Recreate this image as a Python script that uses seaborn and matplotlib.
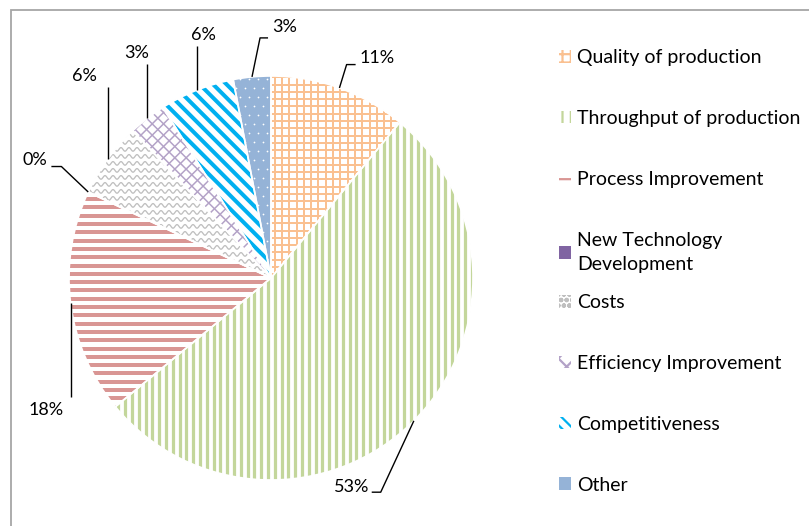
import numpy as np
import matplotlib
matplotlib.use("Agg")
import matplotlib.pyplot as plt
import seaborn as sns
from matplotlib.collections import LineCollection
from matplotlib.patches import Patch, Rectangle, Wedge

# ---------------- data ----------------
categories = ["Quality of production", "Throughput of production", "Process Improvement",
              "New Technology\nDevelopment", "Costs", "Efficiency Improvement",
              "Competitiveness", "Other"]
shares = [11, 53, 18, 0, 6, 3, 6, 3]
pct_labels = ["11%", "53%", "18%", "0%", "6%", "3%", "6%", "3%"]

# ---------------- style ----------------
sns.set_theme(style="white")
plt.rcParams["font.family"] = ["Lato", "DejaVu Sans"]
plt.rcParams["hatch.linewidth"] = 1.6

pattern_colors = ["#FAC090", "#C3D69B", "#D99694", "#8064A2",
                  "#BFBFBF", "#B3A2C7", "#00B0F0", "#95B3D7"]
face_colors = ["white", "white", "white", "#8064A2", "white", "white", "white", "#95B3D7"]
legend_hatches = ["++", "||", "--", None, "ooo", "xx", "\\\\\\", None]

# label placement (radius, angle clockwise from 12 o'clock), layout only
label_polar = [(1.21, 25.6), (1.11, 158.9), (1.29, 239.5), (1.31, 296.6),
               (1.36, 317.2), (1.30, 329.1), (1.25, 344.4), (1.245, 3.2)]
# leader attach point relative to label centre (px, y down) and horizontal elbow (px)
label_attach = [(-21, 7, -9), (20, 5, 9), (23, -13, 0), (17, 7, 10),
                (16, 11, 0), (11, 11, 0), (-6, 11, 0), (-17, 11, -8)]

W, H = 809, 526
fig = plt.figure(figsize=(W / 100, H / 100), dpi=100)
cx, cy, R = 271, 278, 202
ax = fig.add_axes([(cx - R) / W, (H - cy - R) / H, 2 * R / W, 2 * R / H])

wedges, _ = ax.pie(shares, startangle=90, counterclock=False, colors=face_colors,
                   wedgeprops=dict(edgecolor="none", linewidth=0))
ax.set_xlim(-1, 1)
ax.set_ylim(-1, 1)
ax.axis("off")

px = 1.0 / R  # data units per pixel


def stripes(wedge, angle_deg, spacing_px, width_px, color, phase=0.0):
    t = np.deg2rad(angle_deg)
    d = np.array([np.cos(t), np.sin(t)])
    n = np.array([-np.sin(t), np.cos(t)])
    offs = np.arange(-1.5, 1.5, spacing_px * px) + phase * px
    segs = [[o * n - 1.6 * d, o * n + 1.6 * d] for o in offs]
    lc = LineCollection(segs, colors=color, linewidths=width_px * 0.72,
                        zorder=2, capstyle="butt")
    ax.add_collection(lc)
    lc.set_clip_path(wedge)


def waves(wedge, spacing_px, wl_px, amp_px, width_px, color):
    xs = np.arange(-1.2, 1.2, 0.5 * px)
    segs = []
    for y0 in np.arange(-1.2, 1.2, spacing_px * px):
        ys = y0 + amp_px * px * np.sin(2 * np.pi * xs / (wl_px * px))
        segs.append(np.column_stack([xs, ys]))
    lc = LineCollection(segs, colors=color, linewidths=width_px * 0.72, zorder=2)
    ax.add_collection(lc)
    lc.set_clip_path(wedge)


def dots(wedge, spacing_px, color):
    pts = []
    sp = spacing_px * px
    for i, y in enumerate(np.arange(-1.2, 1.2, sp)):
        shift = (sp / 2) if i % 2 else 0
        for x in np.arange(-1.2, 1.2, sp):
            pts.append((x + shift, y))
    pts = np.array(pts)
    sc = ax.scatter(pts[:, 0], pts[:, 1], s=1.6, c=color, linewidths=0, zorder=2)
    sc.set_clip_path(wedge)


# Quality: orange grid
stripes(wedges[0], 0, 7.3, 2.0, pattern_colors[0])
stripes(wedges[0], 90, 7.3, 2.0, pattern_colors[0])
# Throughput: green vertical stripes
stripes(wedges[1], 90, 6.8, 3.2, pattern_colors[1])
# Process improvement: red horizontal stripes
stripes(wedges[2], 0, 8.3, 4.0, pattern_colors[2])
# Costs: grey waves
waves(wedges[4], 7.0, 8.0, 1.8, 1.3, pattern_colors[4])
# Efficiency: lavender diagonal grid
stripes(wedges[5], 45, 8.0, 1.5, pattern_colors[5])
stripes(wedges[5], -45, 8.0, 1.5, pattern_colors[5])
# Competitiveness: blue diagonal stripes
stripes(wedges[6], -45, 9.5, 4.0, pattern_colors[6])
# Other: white dots
dots(wedges[7], 9.0, "white")

# white separators on top
for w in wedges:
    ax.add_patch(Wedge(w.center, w.r, w.theta1, w.theta2, facecolor="none",
                       edgecolor="white", linewidth=1.2, zorder=3))

# percentage labels with leader lines
for w, lab, (r, a), (adx, ady, elb) in zip(wedges, pct_labels, label_polar, label_attach):
    mid = np.deg2rad((w.theta1 + w.theta2) / 2)
    edge = np.array([np.cos(mid), np.sin(mid)])
    ang = np.deg2rad(90 - a)
    pos = np.array([r * np.cos(ang), r * np.sin(ang)])
    ax.text(pos[0], pos[1], lab, ha="center", va="center", fontsize=13, color="#000000")
    attach = pos + np.array([adx * px, -ady * px])
    if elb == 0:
        attach = np.array([edge[0] if abs(adx) > 0 and abs(edge[0] - attach[0]) < 12 * px
                           else attach[0], attach[1]])
        xs, ys = [edge[0], attach[0]], [edge[1], attach[1]]
    else:
        elbow = attach + np.array([elb * px, 0])
        xs, ys = [edge[0], elbow[0], attach[0]], [edge[1], elbow[1], attach[1]]
    ax.plot(xs, ys, color="black", lw=1.0, clip_on=False, zorder=4,
            solid_capstyle="butt")

# legend (two blocks, evenly spaced like the original)
handles = []
for fc, pc, hatch in zip(face_colors, pattern_colors, legend_hatches):
    if hatch is None:
        handles.append(Patch(facecolor=fc, edgecolor=fc, linewidth=0))
    else:
        handles.append(Patch(facecolor="white", edgecolor=pc, hatch=hatch, linewidth=0))

leg_kw = dict(loc="upper left", frameon=False, fontsize=14, labelspacing=2.25,
              handlelength=0.62, handleheight=0.62, handletextpad=0.31,
              borderaxespad=0, borderpad=0.4, labelcolor="#000000")
leg1 = fig.legend(handles[:4], categories[:4], bbox_to_anchor=(551 / W, 1 - 41.5 / H), **leg_kw)
for t in leg1.get_texts():
    t.set_linespacing(1.55)
leg2 = fig.legend(handles[4:], categories[4:], bbox_to_anchor=(551 / W, 1 - 286.5 / H), **leg_kw)

# outer chart frame
fig.add_artist(Rectangle((11 / W, -0.1), 2, (H - 10) / H + 0.1, transform=fig.transFigure,
                         fill=False, edgecolor="#A6A6A6", linewidth=1.3))

fig.savefig("out.png", dpi=100)
